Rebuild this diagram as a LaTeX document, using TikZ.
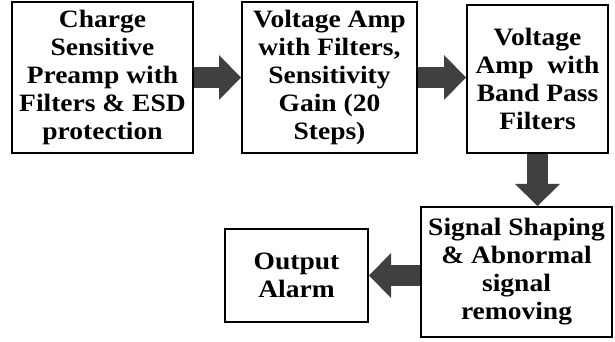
\documentclass[tikz,border=0pt]{standalone}
\usepackage{fontspec}
\setmainfont[FakeStretch=1.1]{Liberation Serif}
\usetikzlibrary{arrows.meta,positioning}
\definecolor{ink}{HTML}{000000}
\definecolor{blockarr}{HTML}{404040}
\tikzset{
  stage/.style={draw=ink, line width=2pt, align=center, inner sep=0pt, text=ink,
    font=\fontsize{25}{28}\selectfont\bfseries},
  flow/.style={-{Triangle[length=22pt,width=45pt,line width=0pt]}, draw=blockarr, line width=21pt},
}
\begin{document}
\begin{tikzpicture}[x=1pt, y=1pt]
  \useasboundingbox (0,0) rectangle (615,342);
  % top row
  \node[stage, minimum width=181pt, minimum height=151pt] (pre) at (102.5,264.5)
    {Charge\\Sensitive\\Preamp with\\Filters \& ESD\\protection};
  \node[stage, minimum width=175pt, minimum height=151pt] (vamp) at (329.5,264.5)
    {Voltage Amp\\with Filters,\\Sensitivity\\Gain (20\\Steps)};
  \node[stage, minimum width=141pt, minimum height=148pt] (bpf) at (537.5,263)
    {Voltage\\Amp~ with\\Band Pass\\Filters};
  % bottom row
  \node[stage, minimum width=191pt, minimum height=130pt] (shape) at (516.5,70)
    {Signal Shaping\\\& Abnormal\\signal\\removing};
  \node[stage, minimum width=143pt, minimum height=93pt] (alarm) at (296.5,66.5)
    {Output\\Alarm};
  % block arrows
  \draw[flow] (pre.east) -- (vamp.west);
  \draw[flow] (vamp.east) -- (bpf.west |- vamp.east);
  \draw[flow] (bpf.south) -- (bpf.south |- shape.north);
  \draw[flow] (shape.west |- alarm.east) -- (alarm.east);
\end{tikzpicture}
\end{document}
